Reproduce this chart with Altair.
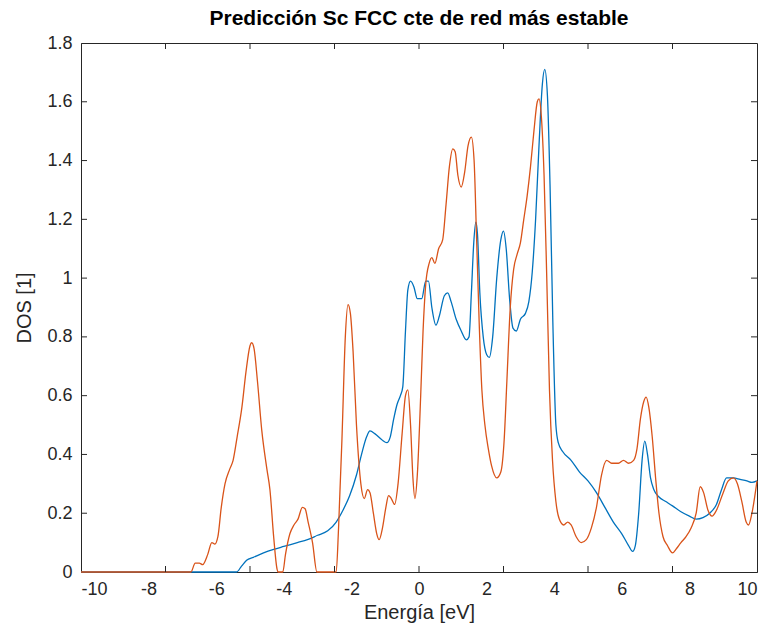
import altair as alt
import pandas as pd

# ---- data ----
energy_orange = [-10.0, -6.75, -6.62, -6.5, -6.4, -6.25, -6.13, -6.04, -5.95, -5.85, -5.74, -5.6, -5.5,
                 -5.38, -5.24, -5.12, -5.0, -4.95, -4.88, -4.78, -4.65, -4.5, -4.41, -4.3, -4.2, -4.17,
                 -4.03, -3.95, -3.82, -3.7, -3.58, -3.45, -3.37, -3.28, -3.15, -3.02, -2.45, -2.38,
                 -2.28, -2.18, -2.1, -2.03, -1.95, -1.85, -1.72, -1.62, -1.52, -1.45, -1.35, -1.25,
                 -1.18, -1.08, -0.98, -0.9, -0.82, -0.72, -0.62, -0.5, -0.4, -0.33, -0.25, -0.18,
                 -0.12, -0.05, 0.05, 0.12, 0.2, 0.3, 0.38, 0.47, 0.58, 0.7, 0.8, 0.9, 1.0, 1.07,
                 1.15, 1.25, 1.35, 1.45, 1.55, 1.63, 1.7, 1.78, 1.86, 1.95, 2.05, 2.15, 2.3, 2.42,
                 2.52, 2.6, 2.7, 2.8, 2.9, 3.0, 3.1, 3.2, 3.3, 3.4, 3.5, 3.55, 3.62, 3.7, 3.78,
                 3.86, 3.95, 4.05, 4.15, 4.28, 4.4, 4.5, 4.65, 4.8, 4.95, 5.1, 5.25, 5.4, 5.55,
                 5.7, 5.9, 6.05, 6.2, 6.35, 6.45, 6.55, 6.65, 6.72, 6.8, 6.9, 7.0, 7.1, 7.22,
                 7.35, 7.5, 7.62, 7.75, 7.9, 8.05, 8.2, 8.32, 8.42, 8.55, 8.67, 8.8, 9.0, 9.15,
                 9.3, 9.42, 9.55, 9.68, 9.75, 9.85, 10.0]
dos_orange = [0.0, 0.0, 0.03, 0.03, 0.025, 0.06, 0.10, 0.095, 0.12, 0.22, 0.30, 0.35, 0.38,
              0.46, 0.56, 0.68, 0.77, 0.78, 0.76, 0.65, 0.48, 0.35, 0.28, 0.12, 0.01, 0.0,
              0.0, 0.06, 0.13, 0.16, 0.18, 0.22, 0.215, 0.17, 0.10, 0.0, 0.0, 0.15,
              0.45, 0.80, 0.91, 0.88, 0.75, 0.50, 0.30, 0.25, 0.28, 0.27, 0.20, 0.13,
              0.11, 0.15, 0.22, 0.26, 0.25, 0.23, 0.30, 0.47, 0.60, 0.62, 0.50, 0.32,
              0.25, 0.33, 0.60, 0.82, 0.98, 1.05, 1.07, 1.05, 1.10, 1.13, 1.25, 1.38, 1.44, 1.43,
              1.35, 1.31, 1.36, 1.45, 1.48, 1.40, 1.15, 0.85, 0.62, 0.50, 0.42, 0.36, 0.32, 0.34,
              0.45, 0.65, 0.90, 1.03, 1.08, 1.12, 1.20, 1.28, 1.38, 1.50, 1.60, 1.61, 1.55, 1.35, 1.00,
              0.62, 0.38, 0.24, 0.18, 0.16, 0.17, 0.16, 0.12, 0.10, 0.11, 0.15, 0.22, 0.33, 0.38,
              0.37, 0.37, 0.38, 0.37, 0.38, 0.42, 0.52, 0.58, 0.595, 0.56, 0.46, 0.32, 0.20, 0.12,
              0.09, 0.065, 0.08, 0.10, 0.12, 0.15, 0.20, 0.29, 0.27, 0.21, 0.19, 0.21, 0.27, 0.31,
              0.32, 0.30, 0.24, 0.17, 0.16, 0.20, 0.31]

energy_blue = [-10.0, -5.4, -5.25, -5.1, -4.9, -4.6, -4.3, -4.0, -3.6, -3.3, -3.0, -2.7, -2.45,
               -2.25, -2.05, -1.85, -1.7, -1.55, -1.45, -1.3, -1.1, -0.95, -0.85, -0.75, -0.65,
               -0.55, -0.48, -0.4, -0.33, -0.25, -0.15, -0.05, 0.08, 0.2, 0.28, 0.38, 0.5, 0.6,
               0.75, 0.85, 0.95, 1.1, 1.25, 1.4, 1.48, 1.55, 1.62, 1.68, 1.73, 1.8, 1.9, 2.0,
               2.08, 2.18, 2.3, 2.42, 2.5, 2.58, 2.68, 2.78, 2.88, 3.0, 3.15, 3.25, 3.35, 3.45,
               3.55, 3.65, 3.72, 3.8, 3.88, 3.96, 4.05, 4.12, 4.25, 4.5, 4.75, 5.0, 5.25, 5.5,
               5.75, 6.0, 6.2, 6.32, 6.4, 6.5, 6.6, 6.68, 6.76, 6.85, 6.95, 7.1, 7.3, 7.5, 7.75,
               8.0, 8.2, 8.4, 8.6, 8.8, 8.95, 9.1, 9.3, 9.5, 9.7, 9.85, 10.0]
dos_blue = [0.0, 0.0, 0.02, 0.04, 0.05, 0.065, 0.077, 0.087, 0.10, 0.11, 0.125, 0.14, 0.17,
            0.21, 0.26, 0.33, 0.40, 0.46, 0.48, 0.47, 0.45, 0.44, 0.46, 0.52, 0.57,
            0.60, 0.63, 0.82, 0.96, 0.99, 0.97, 0.93, 0.93, 0.99, 0.99, 0.90, 0.84, 0.87,
            0.94, 0.95, 0.92, 0.86, 0.82, 0.79, 0.80, 0.95, 1.12, 1.19, 1.15, 0.95, 0.80, 0.74,
            0.73, 0.80, 1.00, 1.13, 1.16, 1.10, 0.93, 0.83, 0.82, 0.86, 0.88, 0.92, 1.02, 1.20,
            1.45, 1.66, 1.71, 1.62, 1.30, 0.85, 0.50, 0.44, 0.41, 0.38, 0.34, 0.31, 0.27, 0.22,
            0.17, 0.13, 0.09, 0.07, 0.09, 0.20, 0.38, 0.445, 0.40, 0.32, 0.28, 0.255, 0.24, 0.225, 0.205,
            0.19, 0.18, 0.185, 0.20, 0.23, 0.28, 0.32, 0.32, 0.315, 0.31, 0.305, 0.31]

x_label_values = [-10, -8, -6, -4, -2, 0, 2, 4, 6, 8, 10]
x_tick_values = [-7.5, -5, -2.5, 0, 2.5, 5, 7.5]
y_values = [0, 0.2, 0.4, 0.6, 0.8, 1, 1.2, 1.4, 1.6, 1.8]
y_tick_values = [0.2, 0.4, 0.6, 0.8, 1, 1.2, 1.4, 1.6]

title_text = "Predicción Sc FCC cte de red más estable"
x_title = "Energía [eV]"
y_title = "DOS [1]"

W, H = 676, 529
FONT = "Liberation Sans"
AX = "#262626"

df_orange = pd.DataFrame({"E": energy_orange, "DOS": dos_orange})
df_blue = pd.DataFrame({"E": energy_blue, "DOS": dos_blue})
df_xt = pd.DataFrame({"E": x_tick_values})
df_yt = pd.DataFrame({"DOS": y_tick_values})

X = alt.X("E:Q",
          scale=alt.Scale(domain=[-10, 10], nice=False, zero=False),
          axis=alt.Axis(values=x_label_values, tickSize=0, labelPadding=8,
                        labelExpr="toString(datum.value)", title=x_title,
                        titlePadding=4, grid=False, labelFont=FONT, titleFont=FONT,
                        labelFontSize=18, titleFontSize=20, titleFontWeight="normal",
                        labelColor=AX, titleColor=AX, domainColor=AX))
Y = alt.Y("DOS:Q",
          scale=alt.Scale(domain=[0, 1.8], nice=False, zero=False),
          axis=alt.Axis(values=y_values, tickSize=0, labelPadding=9,
                        labelExpr="toString(datum.value)", title=y_title,
                        titlePadding=12, grid=False, labelFont=FONT, titleFont=FONT,
                        labelFontSize=18, titleFontSize=20, titleFontWeight="normal",
                        labelColor=AX, titleColor=AX, domainColor=AX))

blue = alt.Chart(df_blue).mark_line(color="#0072BD", strokeWidth=1.3,
                                    interpolate="monotone").encode(x=X, y=Y)
orange = alt.Chart(df_orange).mark_line(color="#D95319", strokeWidth=1.3,
                                        interpolate="monotone").encode(x=X, y=Y)

xt_bottom = alt.Chart(df_xt).mark_rule(color=AX, strokeWidth=1).encode(
    x=X, y=alt.value(H), y2=alt.value(H - 6))
xt_top = alt.Chart(df_xt).mark_rule(color=AX, strokeWidth=1).encode(
    x=X, y=alt.value(0), y2=alt.value(6))
yt_left = alt.Chart(df_yt).mark_rule(color=AX, strokeWidth=1).encode(
    y=Y, x=alt.value(0), x2=alt.value(6))
yt_right = alt.Chart(df_yt).mark_rule(color=AX, strokeWidth=1).encode(
    y=Y, x=alt.value(W), x2=alt.value(W - 6))

chart = alt.layer(blue, orange, xt_bottom, xt_top, yt_left, yt_right).properties(
    width=W, height=H,
    title=alt.TitleParams(title_text, font=FONT, fontSize=21, fontWeight="bold",
                          color="#000000", offset=5, anchor="middle"),
    autosize=alt.AutoSizeParams(type="none"),
    padding={"left": 81, "top": 43, "right": 17, "bottom": 71},
    background="white",
).configure_view(stroke=AX, strokeWidth=1).configure_axis(
    domainColor=AX, domainWidth=1, labelColor=AX, titleColor=AX,
    labelFont=FONT, titleFont=FONT, labelFontSize=18, titleFontSize=20,
    titleFontWeight="normal"
)

chart.save("out.html", embed_options={"renderer": "svg", "actions": False})
